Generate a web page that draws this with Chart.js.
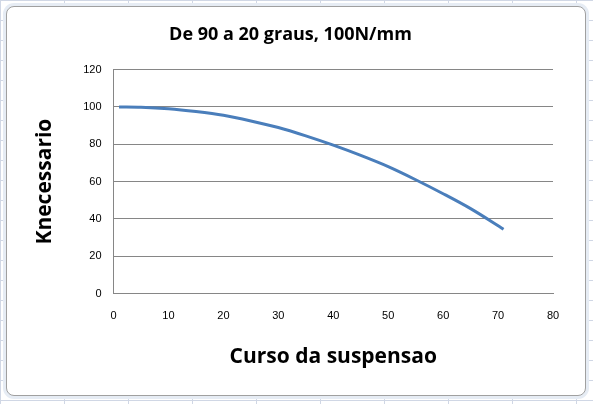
<!DOCTYPE html>
<html>
<head>
<meta charset="utf-8">
<script src="https://cdn.jsdelivr.net/npm/chart.js@4"></script>
<style>
  html, body { margin: 0; padding: 0; }
  body {
    width: 593px; height: 404px; overflow: hidden;
    background-color: #ffffff;
    background-image:
      linear-gradient(to right, #d0d7e5 1px, transparent 1px),
      linear-gradient(to bottom, #d0d7e5 1px, transparent 1px);
    background-size: 64px 20px;
    position: relative;
  }
  #box {
    position: absolute; left: 6px; top: 6px; width: 578px; height: 388px;
    background: #fff; border: 1px solid #a0a0a0; border-radius: 8px;
    box-shadow: 0 0 0 3px #e6ecf4;
  }
  canvas { position: absolute; left: 0; top: 0; }
</style>
</head>
<body>
<div id="box"></div>
<canvas id="chart" width="593" height="404"></canvas>
<script>
// curve
const cursoValues = [1, 5, 10, 15, 20, 25, 30, 35, 40, 45, 50, 55, 60, 65, 71];
const kValues = [100, 99.8, 99, 97.5, 95.5, 92.5, 89, 84.5, 79.5, 74, 68, 61, 53.5, 45.5, 34.5];

const points = cursoValues.map((x, i) => ({ x: x, y: kValues[i] }));

const ctx = document.getElementById('chart').getContext('2d');
new Chart(ctx, {
    type: 'line',
    data: {
        datasets: [{
            data: points,
            borderColor: '#4a7ebb',
            borderWidth: 3,
            pointRadius: 0,
            cubicInterpolationMode: 'monotone',
            fill: false
        }]
    },
    options: {
        responsive: false,
        animation: false,
        layout: { padding: { left: 28, right: 40, top: 24, bottom: 30 } },
        plugins: {
            legend: { display: false },
            tooltip: { enabled: false },
            title: {
                display: true,
                text: 'De 90 a 20 graus, 100N/mm',
                color: '#000',
                font: { family: 'Open Sans', size: 18, weight: 'bold' },
                padding: { top: 0, bottom: 24 }
            }
        },
        scales: {
            x: {
                type: 'linear', min: 0, max: 80,
                ticks: { stepSize: 10, color: '#000', padding: 8, font: { family: 'Liberation Sans', size: 11 } },
                grid: { display: false },
                border: { color: '#868686' },
                title: {
                    display: true, text: 'Curso da suspensao', color: '#000',
                    font: { family: 'Open Sans', size: 21, weight: 'bold' },
                    padding: { top: 14 }
                }
            },
            y: {
                min: 0, max: 120,
                ticks: { stepSize: 20, color: '#000', padding: 12, font: { family: 'Liberation Sans', size: 11 } },
                grid: { color: '#868686', drawTicks: false },
                border: { color: '#868686' },
                title: {
                    display: true, text: 'Knecessario', color: '#000',
                    font: { family: 'Open Sans', size: 21, weight: 'bold' },
                    padding: { bottom: 14 }
                }
            }
        }
    }
});
</script>
</body>
</html>
